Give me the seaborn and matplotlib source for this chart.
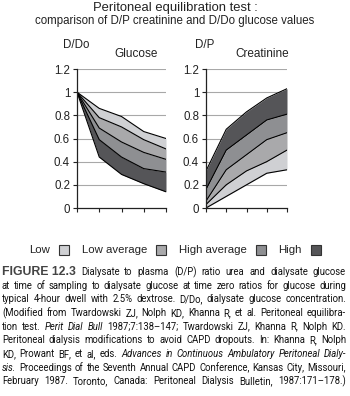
import matplotlib
matplotlib.use("Agg")
import matplotlib.pyplot as plt
from matplotlib import font_manager
from matplotlib.patches import Patch
import seaborn as sns

# sampling times (equally spaced, unlabeled on the chart)
times = [0, 1, 2, 3, 4]

# Glucose D/Do boundaries, top to bottom
glu_top = [1.0, 0.86, 0.79, 0.66, 0.60]
glu_b1 = [1.0, 0.78, 0.70, 0.59, 0.51]
glu_b2 = [1.0, 0.69, 0.57, 0.48, 0.42]
glu_b3 = [1.0, 0.59, 0.44, 0.34, 0.31]
glu_bot = [1.0, 0.44, 0.29, 0.21, 0.14]

# Creatinine D/P boundaries, top to bottom
cre_top = [0.32, 0.68, 0.83, 0.95, 1.03]
cre_b1 = [0.16, 0.50, 0.63, 0.76, 0.81]
cre_b2 = [0.06, 0.33, 0.46, 0.59, 0.65]
cre_b3 = [0.03, 0.20, 0.32, 0.40, 0.50]
cre_bot = [0.0, 0.10, 0.20, 0.30, 0.33]

categories = ["Low", "Low average", "High average", "High"]
colors = ["#cfd0d3", "#a9a9ab", "#8e8f92", "#555558"]
yticks = [0, 0.2, 0.4, 0.6, 0.8, 1.0, 1.2]
ytick_labels = ["0", "0.2", "0.4", "0.6", "0.8", "1", "1.2"]

caption = [
    [("FIGURE 12.3", "b"), ("Dialysate", ""), ("to", ""), ("plasma", ""), ("(D/P)", ""), ("ratio", ""),
     ("urea", ""), ("and", ""), ("dialysate", ""), ("glucose", "")],
    "at time of sampling to dialysate glucose at time zero ratios for glucose during",
    "typical 4-hour dwell with 2.5% dextrose. D/Do, dialysate glucose concentration.",
    "(Modified from Twardowski ZJ, Nolph KD, Khanna R, et al. Peritoneal equilibra-",
    [("tion", ""), ("test.", ""), ("Perit", "i"), ("Dial", "i"), ("Bull", "i"), ("1987;7:138\u2013147;", ""),
     ("Twardowski", ""), ("ZJ,", ""), ("Khanna", ""), ("R,", ""), ("Nolph", ""), ("KD.", "")],
    "Peritoneal dialysis modifications to avoid CAPD dropouts. In: Khanna R, Nolph",
    [("KD,", ""), ("Prowant", ""), ("BF,", ""), ("et", ""), ("al,", ""), ("eds.", ""), ("Advances", "i"),
     ("in", "i"), ("Continuous", "i"), ("Ambulatory", "i"), ("Peritoneal", "i"), ("Dialy-", "i")],
    [("sis.", "i"), ("Proceedings", ""), ("of", ""), ("the", ""), ("Seventh", ""), ("Annual", ""),
     ("CAPD", ""), ("Conference,", ""), ("Kansas", ""), ("City,", ""), ("Missouri,", "")],
    "February 1987. Toronto, Canada: Peritoneal Dialysis Bulletin, 1987:171\u2013178.)",
]

sns.set_style("white")
plt.rcParams["font.family"] = ["Liberation Sans", "DejaVu Sans"]
W, H = 350, 396
fig = plt.figure(figsize=(W / 100, H / 100), dpi=100)
txt = "#222222"


def panel(left, width, bounds, band_colors):
    ax = fig.add_axes([left / W, 1 - 208 / H, width / W, 139 / H])
    for i in range(4):
        ax.fill_between(times, bounds[i + 1], bounds[i], color=band_colors[i], lw=0)
    for b in bounds:
        sns.lineplot(x=times, y=b, ax=ax, color="black", lw=0.8)
    ax.set_xlim(0, 4)
    ax.set_ylim(0, 1.2)
    ax.set_yticks(yticks, ytick_labels)
    ax.set_xticks(times, [])
    for y in yticks[1:]:
        ax.axhline(y, color="#a8a8a8", lw=0.8, zorder=0)
    sns.despine(ax=ax, top=True, right=True)
    for s in ["left", "bottom"]:
        ax.spines[s].set_color("#222222")
        ax.spines[s].set_linewidth(0.9)
    ax.tick_params(axis="both", direction="out", length=3, width=0.8, color="#222222",
                   labelsize=8.3, labelcolor=txt, pad=2, left=True, bottom=True)
    return ax


panel(77, 89, [glu_top, glu_b1, glu_b2, glu_b3, glu_bot], colors)
panel(206, 81, [cre_top, cre_b1, cre_b2, cre_b3, cre_bot], colors[::-1])

fig.text(175 / W, 1 - 8 / H, "Peritoneal equilibration test :", ha="center", va="center",
         fontsize=9.4, color=txt)
fig.text(175 / W, 1 - 21 / H, "comparison of D/P creatinine and D/Do glucose values",
         ha="center", va="center", fontsize=8.3, color=txt)
fig.text(76 / W, 1 - 45 / H, "D/Do", ha="center", va="center", fontsize=8.3, color=txt)
fig.text(136 / W, 1 - 54 / H, "Glucose", ha="center", va="center", fontsize=8.5, color=txt)
fig.text(205 / W, 1 - 45 / H, "D/P", ha="center", va="center", fontsize=8.3, color=txt)
fig.text(262 / W, 1 - 54 / H, "Creatinine", ha="center", va="center", fontsize=8.5, color=txt)

handles = [Patch(facecolor=c, edgecolor="#333333", lw=0.8) for c in colors]
fig.legend(handles, categories, loc="center", bbox_to_anchor=(175 / W, 1 - 250 / H), ncol=4,
           markerfirst=False, frameon=False, fontsize=8.2, handlelength=0.9, handleheight=1.0,
           handletextpad=0.8, columnspacing=1.1, labelcolor=txt)

# justified caption, word by word
renderer = fig.canvas.get_renderer()
installed = {f.name for f in font_manager.fontManager.ttflist}
x0, x1 = 2, 346
lines = []
for line in caption:
    if isinstance(line, str):
        line = [(w, "") for w in line.split(" ")]
    lines.append(line)


def fit_size(fam, stretch, base=8.0):
    # largest size at which every line, with normal spaces, still fits the column
    r = []
    for line in lines:
        probe = fig.text(0, 0, " ".join(w for w, _ in line), fontsize=base, family=fam,
                         stretch=stretch)
        r.append((x1 - x0 - 3) / probe.get_window_extent(renderer).width)
        probe.remove()
    return base * min(r)


# pick the face whose fitting size comes closest to the original's ~7.6 pt
candidates = [("Liberation Sans Narrow", "normal"), ("DejaVu Sans", "condensed"),
              ("Roboto", "normal"), ("Liberation Sans", "normal"), ("Lato", "normal"),
              ("Noto Sans", "normal")]
best = None
for fam, stretch in candidates:
    if fam not in installed:
        continue
    s = fit_size(fam, stretch)
    if best is None or abs(s - 7.6) < abs(best[0] - 7.6):
        best = (s, fam, stretch)
cap_size, cap_family, cap_stretch = min(best[0], 7.8), [best[1], "DejaVu Sans"], best[2]

for i, line in enumerate(lines):
    y = 1 - (272 + i * 13.65) / H
    objs = []
    for word, st in line:
        kw = dict(fontsize=cap_size, color="#111111", va="center", ha="left", family=cap_family,
                  stretch=cap_stretch)
        if st == "b":
            kw.update(fontweight="bold", color="#444444", fontsize=8.8,
                      family=["Liberation Sans", "DejaVu Sans"], stretch="normal")
        if st == "i":
            kw.update(fontstyle="italic")
        objs.append(fig.text(0, y, word, **kw))
    widths = [o.get_window_extent(renderer).width for o in objs]
    gap = (x1 - x0 - sum(widths)) / (len(objs) - 1)
    x = x0
    for o, w in zip(objs, widths):
        o.set_x(x / W)
        x += w + gap

fig.savefig("out.png", dpi=100)
